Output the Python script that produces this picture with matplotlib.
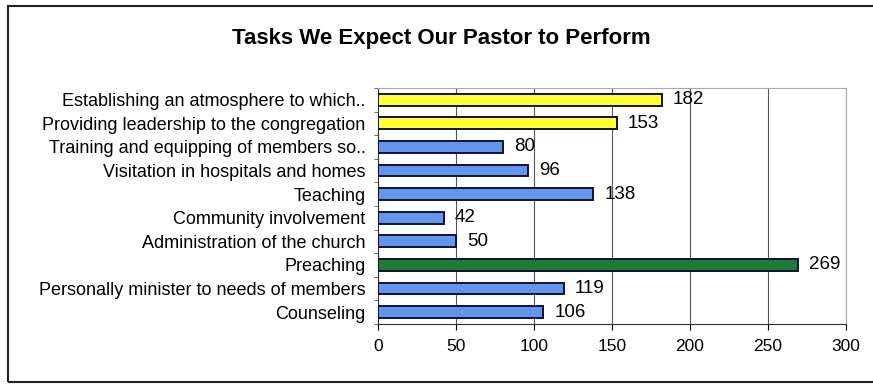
import numpy as np
import matplotlib.pyplot as plt
from matplotlib.patches import Rectangle

plt.rcParams['font.family'] = ['Liberation Sans', 'DejaVu Sans']

# ── Data ──────────────────────────────────────────────────────────────────────
tasks = [
    'Establishing an atmosphere to which..',
    'Providing leadership to the congregation',
    'Training and equipping of members so..',
    'Visitation in hospitals and homes',
    'Teaching',
    'Community involvement',
    'Administration of the church',
    'Preaching',
    'Personally minister to needs of members',
    'Counseling',
]
counts = [182, 153, 80, 96, 138, 42, 50, 269, 119, 106]
bar_colors = ['#ffff33', '#ffff33', '#6495ed', '#6495ed', '#6495ed',
              '#6495ed', '#6495ed', '#1e7b3a', '#6495ed', '#6495ed']

# ── Plot ──────────────────────────────────────────────────────────────────────
fig = plt.figure(figsize=(8.73, 3.86), dpi=100)
fig.patches.append(Rectangle((0.009, 0.01), 0.995, 0.975, transform=fig.transFigure,
                             fill=False, edgecolor='#222222', lw=1.5))

ax = fig.add_axes([0.433, 0.161, 0.536, 0.611])
y = np.arange(len(tasks))
ax.barh(y, counts, height=0.5, color=bar_colors, edgecolor='#111133', lw=1.4, zorder=3)

for yi, v in zip(y, counts):
    ax.text(v + 7, yi, str(v), va='center', ha='left', fontsize=13.5, zorder=4)

ax.set_xlim(0, 300)
ax.set_ylim(len(tasks) - 0.5, -0.5)
ax.set_xticks(range(0, 301, 50))
ax.set_yticks(y)
ax.set_yticklabels(tasks, fontsize=13)
ax.set_yticks(np.arange(-0.5, len(tasks), 1), minor=True)
ax.tick_params(axis='y', which='major', length=0, pad=9)
ax.tick_params(axis='y', which='minor', length=3, color='#555555')
ax.tick_params(axis='x', labelsize=12.5, length=4, pad=7)
ax.grid(axis='x', color='#555555', lw=0.8, zorder=0)

for side in ['top', 'right']:
    ax.spines[side].set_color('#aaaaaa')
ax.spines['left'].set_color('#333333')
ax.spines['bottom'].set_color('#333333')

fig.text(0.505, 0.9, 'Tasks We Expect Our Pastor to Perform', ha='center',
         va='center', fontsize=16, fontweight='bold')

fig.savefig('out.png', dpi=100)
